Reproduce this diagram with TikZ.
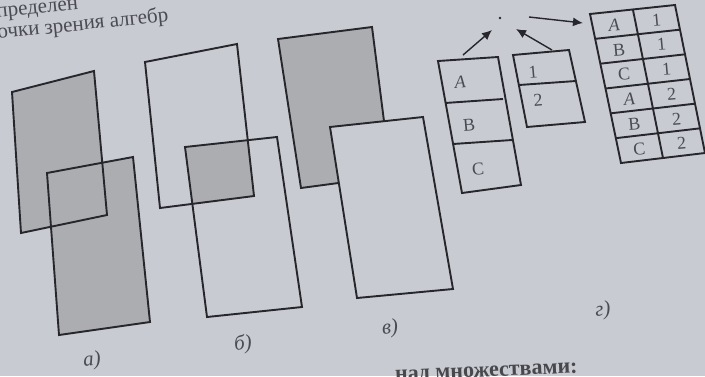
\documentclass[tikz,border=0pt]{standalone}
\usepackage{fontspec}
\setmainfont{Liberation Serif}
\usetikzlibrary{arrows.meta,calc}
\definecolor{paper}{RGB}{200,203,209}
\definecolor{shadegray}{RGB}{172,173,177}
\definecolor{ink}{RGB}{38,38,44}
\definecolor{txtgray}{RGB}{75,75,82}
\begin{document}
\begin{tikzpicture}[x=1pt,y=-1pt,
  box/.style={draw=ink,line width=1.9pt,line join=miter},
  tbl/.style={text=txtgray,font=\fontsize{18}{18}\selectfont,inner sep=0pt,rotate=5},
  caplabel/.style={text=txtgray,font=\fontsize{21}{21}\selectfont\itshape,inner sep=0pt,rotate=6},
  pagetext/.style={text=txtgray,font=\fontsize{21}{21}\selectfont,anchor=base west,inner sep=0pt,rotate=6},
  arr/.style={draw=ink,line width=1.4pt,-{Latex[length=10pt,width=9pt]}}]
\useasboundingbox (0,0) rectangle (705,376);
\clip (0,0) rectangle (705,376);
\fill[paper] (0,0) rectangle (705,376);

% top page text (cut by the photo edge)
\node[pagetext] (top1) at (-3,18) {пределен};
\node[pagetext] (top2) at (-2,39) {очки зрения алгебр};

% a) union
\fill[shadegray] (12,92)--(94,71)--(107,215)--(21,233)--cycle;
\fill[shadegray] (47,173)--(133,157)--(150,322)--(59,335)--cycle;
\draw[box] (12,92)--(94,71)--(107,215)--(21,233)--cycle;
\draw[box] (47,173)--(133,157)--(150,322)--(59,335)--cycle;

% b) intersection
\begin{scope}
  \clip (145,62)--(237,44)--(254,196)--(160,208)--cycle;
  \fill[shadegray] (185,147)--(277,137)--(302,307)--(207,317)--cycle;
\end{scope}
\draw[box] (145,62)--(237,44)--(254,196)--(160,208)--cycle;
\draw[box] (185,147)--(277,137)--(302,307)--(207,317)--cycle;

% c) difference
\fill[shadegray] (278,39)--(372,27)--(391,176)--(301,188)--cycle;
\draw[box] (278,39)--(372,27)--(391,176)--(301,188)--cycle;
\filldraw[box,fill=paper] (330,127)--(423,117)--(453,289)--(357,298)--cycle;

% d) product: table ABC
\draw[box] (438,61)--(498,57)--(521,185)--(462,193)--cycle;
\draw[box] (445,103)--(503,99);
\draw[box] (453,144)--(512,140);
\node[tbl] (tA) at (460,82) {\textit{A}};
\node[tbl] (tB) at (469,125) {B};
\node[tbl] (tC) at (478,169) {C};

% table 12
\draw[box] (513,55)--(569,50)--(585,122)--(527,127)--cycle;
\draw[box] (519,85)--(576,81);
\node[tbl] (t1) at (533,72) {1};
\node[tbl] (t2) at (538,100) {2};

% dot and arrows
\fill[ink] (500,18) circle (1.4pt);
\coordinate (s1) at (463,55); \coordinate (e1) at (492,30);
\coordinate (s2) at (552,50); \coordinate (e2) at (516,29);
\coordinate (s3) at (529,17); \coordinate (e3) at (583,23);
\draw[arr] (s1) -- (e1);
\draw[arr] (s2) -- (e2);
\draw[arr] (s3) -- (e3);

% result table
\coordinate (L0) at (590,14); \coordinate (L6) at (621,163);
\coordinate (R0) at (675,5);  \coordinate (R6) at (705,153);
\coordinate (D0) at (633,10); \coordinate (D6) at (663,158);
\draw[box] (L0)--(R0)--(R6)--(L6)--cycle;
\draw[box] (D0)--(D6);
\foreach \k in {1,...,5}{
  \draw[box] ($(L0)!\k/6!(L6)$) -- ($(R0)!\k/6!(R6)$);
}
\foreach \l [count=\i from 0] in {\textit{A},B,C,\textit{A},B,C}{
  \node[tbl] (gl\i) at (614+5.08*\i, 25+24.75*\i) {\l};
}
\foreach \n [count=\i from 0] in {1,1,1,2,2,2}{
  \node[tbl] (gr\i) at (656.5+5*\i, 20+24.67*\i) {\n};
}

% captions
\node[caplabel] (la) at (92,361) {а)};
\node[caplabel] (lb) at (243,344) {б)};
\node[caplabel] (lc) at (390,329) {в)};
\node[caplabel] (ld) at (603,311) {г)};

% bottom page text (cut by the photo edge)
\node[text=ink!85,font=\fontsize{22}{22}\selectfont\bfseries,anchor=base east,inner sep=0pt,rotate=2.4] (bot) at (578,373) {над множествами:};
\end{tikzpicture}
\end{document}
